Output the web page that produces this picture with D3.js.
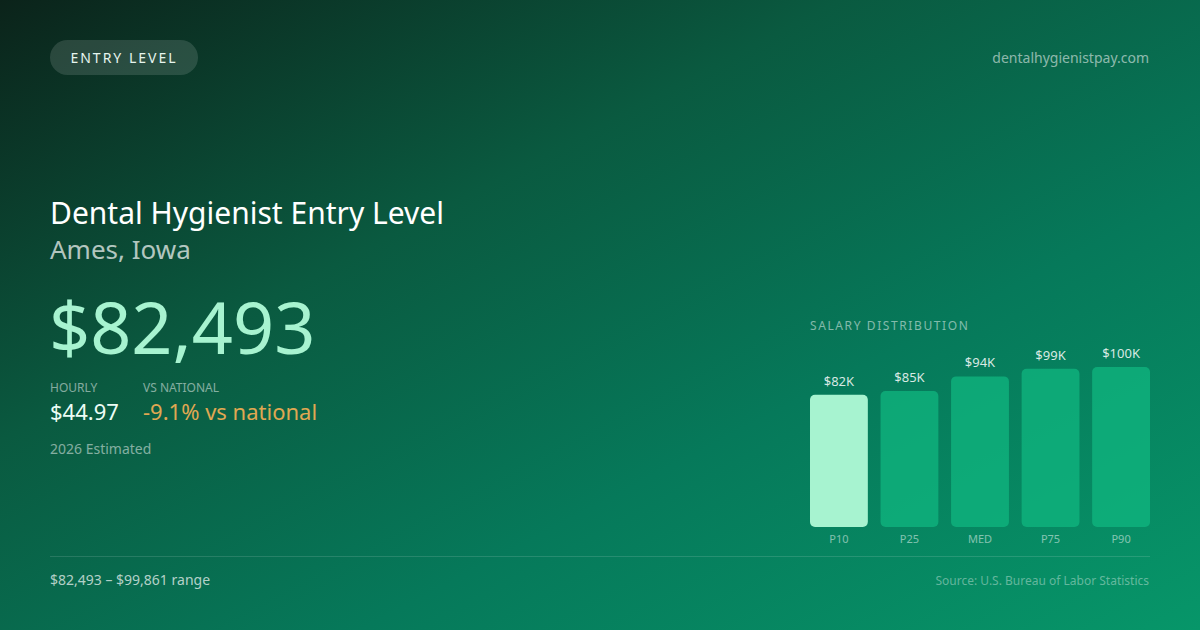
<!DOCTYPE html>
<html>
<head>
<meta charset="utf-8">
<script src="https://cdn.jsdelivr.net/npm/d3@7"></script>
<style>
  html, body { margin: 0; padding: 0; background: #0a3a2a; }
  svg { display: block; font-family: "Noto Sans", "Open Sans", sans-serif; }
</style>
</head>
<body>
<svg id="card" width="1200" height="630"></svg>
<script>
// Salary distribution (annual, USD)
const percentiles = ['P10', 'P25', 'MED', 'P75', 'P90'];
const salaries = [82493, 84900, 94000, 98800, 99861];
const valueLabels = ['$82K', '$85K', '$94K', '$99K', '$100K'];

const title = 'Dental Hygienist Entry Level';
const place = 'Ames, Iowa';
const headline = '$82,493';
const hourly = '$44.97';
const vsNational = '-9.1% vs national';

const svg = d3.select('#card');
const W = 1200, H = 630;

// Background gradient
const defs = svg.append('defs');
const bg = defs.append('linearGradient')
    .attr('id', 'bg')
    .attr('x1', '0%').attr('y1', '0%')
    .attr('x2', '100%').attr('y2', '100%');
bg.append('stop').attr('offset', '0%').attr('stop-color', '#0b231a');
bg.append('stop').attr('offset', '35%').attr('stop-color', '#0a5a40');
bg.append('stop').attr('offset', '65%').attr('stop-color', '#06795a');
bg.append('stop').attr('offset', '100%').attr('stop-color', '#079669');

svg.append('rect')
    .attr('width', W).attr('height', H)
    .attr('fill', 'url(#bg)');

// Badge
svg.append('rect')
    .attr('x', 50).attr('y', 40)
    .attr('width', 148).attr('height', 35)
    .attr('rx', 17.5)
    .attr('fill', 'rgba(255,255,255,0.13)');
svg.append('text')
    .attr('x', 124).attr('y', 63)
    .attr('text-anchor', 'middle')
    .style('font-size', '14px')
    .style('letter-spacing', '2px')
    .style('fill', '#e6f5ee')
    .text('ENTRY LEVEL');

svg.append('text')
    .attr('x', 1149).attr('y', 63)
    .attr('text-anchor', 'end')
    .style('font-size', '14px')
    .style('fill', 'rgba(255,255,255,0.55)')
    .text('dentalhygienistpay.com');

// Headline block
svg.append('text')
    .attr('x', 50).attr('y', 224)
    .style('font-size', '30px')
    .style('fill', '#ffffff')
    .text(title);
svg.append('text')
    .attr('x', 50).attr('y', 259)
    .style('font-size', '26px')
    .style('fill', 'rgba(255,255,255,0.7)')
    .text(place);
svg.append('text')
    .attr('x', 49).attr('y', 354)
    .style('font-size', '72px')
    .style('fill', '#a7f3d0')
    .text(headline);

svg.append('text')
    .attr('x', 50).attr('y', 392)
    .style('font-size', '12px')
    .style('fill', 'rgba(255,255,255,0.5)')
    .text('HOURLY');
svg.append('text')
    .attr('x', 143).attr('y', 392)
    .style('font-size', '12px')
    .style('fill', 'rgba(255,255,255,0.5)')
    .text('VS NATIONAL');
svg.append('text')
    .attr('x', 50).attr('y', 420)
    .style('font-size', '22px')
    .style('fill', '#ecfdf5')
    .text(hourly);
svg.append('text')
    .attr('x', 143).attr('y', 420)
    .style('font-size', '22px')
    .style('fill', '#e0a852')
    .text(vsNational);
svg.append('text')
    .attr('x', 50).attr('y', 454)
    .style('font-size', '14px')
    .style('fill', 'rgba(255,255,255,0.5)')
    .text('2026 Estimated');

// Distribution chart
svg.append('text')
    .attr('x', 810).attr('y', 330)
    .style('font-size', '12px')
    .style('letter-spacing', '1.6px')
    .style('fill', 'rgba(255,255,255,0.5)')
    .text('SALARY DISTRIBUTION');

const x = d3.scaleBand()
    .domain(percentiles)
    .range([810, 1150])
    .paddingInner(0.18)
    .paddingOuter(0);

const y = d3.scaleLinear()
    .domain([0, d3.max(salaries)])
    .range([527, 367]);

const rows = percentiles.map((p, i) => ({ p, v: salaries[i], label: valueLabels[i] }));

const chart = svg.append('g').attr('class', 'dist');

chart.selectAll('.bar')
    .data(rows)
    .enter()
    .append('rect')
    .attr('class', 'bar')
    .attr('x', d => x(d.p))
    .attr('y', d => y(d.v))
    .attr('width', x.bandwidth())
    .attr('height', d => y(0) - y(d.v))
    .attr('rx', 5)
    .attr('fill', (d, i) => i === 0 ? '#a7f3d0' : 'rgba(16,185,129,0.72)');

chart.selectAll('.val')
    .data(rows)
    .enter()
    .append('text')
    .attr('class', 'val')
    .attr('x', d => x(d.p) + x.bandwidth() / 2)
    .attr('y', d => y(d.v) - 9)
    .attr('text-anchor', 'middle')
    .style('font-size', '13px')
    .style('fill', 'rgba(255,255,255,0.85)')
    .text(d => d.label);

chart.selectAll('.cat')
    .data(rows)
    .enter()
    .append('text')
    .attr('class', 'cat')
    .attr('x', d => x(d.p) + x.bandwidth() / 2)
    .attr('y', 543)
    .attr('text-anchor', 'middle')
    .style('font-size', '11px')
    .style('fill', 'rgba(255,255,255,0.5)')
    .text(d => d.p);

// Footer
svg.append('line')
    .attr('x1', 50).attr('x2', 1150)
    .attr('y1', 556.5).attr('y2', 556.5)
    .attr('stroke', 'rgba(255,255,255,0.13)');

svg.append('text')
    .attr('x', 50).attr('y', 585)
    .style('font-size', '14px')
    .style('fill', 'rgba(255,255,255,0.7)')
    .text('$82,493 – $99,861 range');
svg.append('text')
    .attr('x', 1149).attr('y', 585)
    .attr('text-anchor', 'end')
    .style('font-size', '12px')
    .style('fill', 'rgba(255,255,255,0.38)')
    .text('Source: U.S. Bureau of Labor Statistics');
</script>
</body>
</html>
